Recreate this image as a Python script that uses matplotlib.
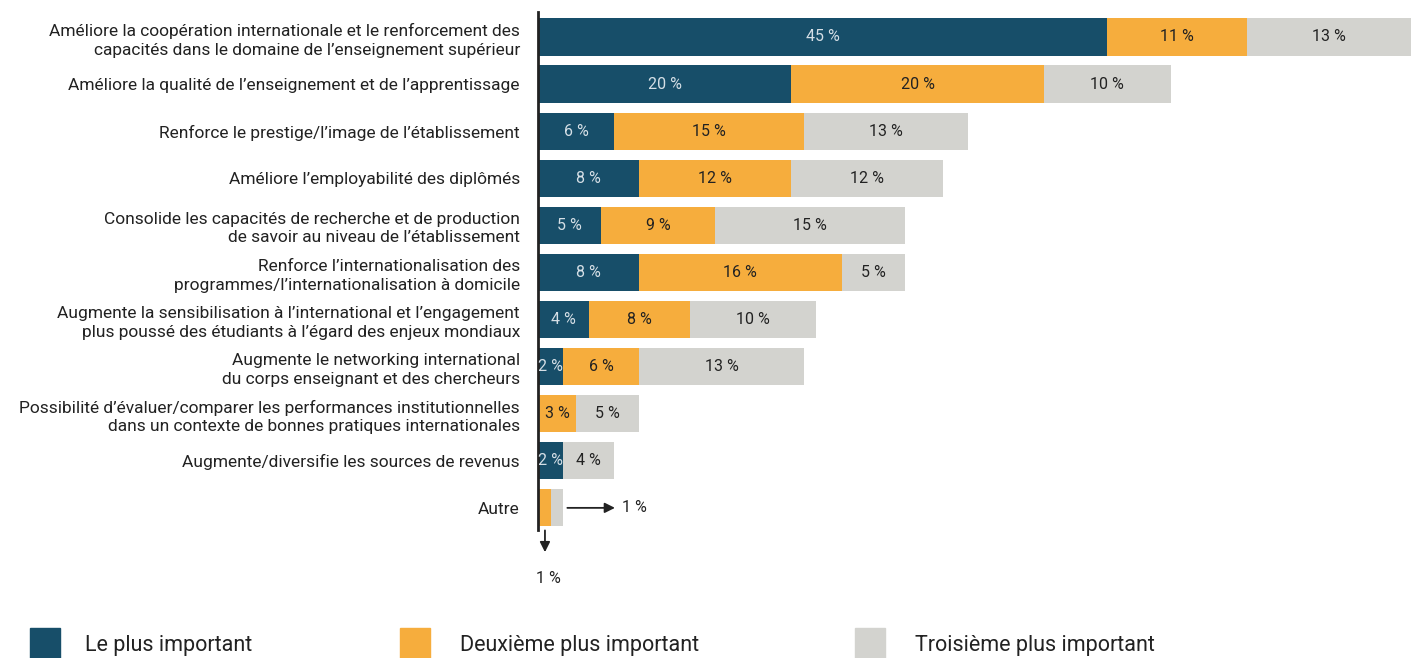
import matplotlib.pyplot as plt
from matplotlib.patches import Rectangle

plt.rcParams["font.family"] = ["Roboto", "DejaVu Sans"]

# Categories (top to bottom)
categories = [
    "Améliore la coopération internationale et le renforcement des\ncapacités dans le domaine de l\u2019enseignement supérieur",
    "Améliore la qualité de l\u2019enseignement et de l\u2019apprentissage",
    "Renforce le prestige/l\u2019image de l\u2019établissement",
    "Améliore l\u2019employabilité des diplômés",
    "Consolide les capacités de recherche et de production\nde savoir au niveau de l\u2019établissement",
    "Renforce l\u2019internationalisation des\nprogrammes/l\u2019internationalisation à domicile",
    "Augmente la sensibilisation à l\u2019international et l\u2019engagement\nplus poussé des étudiants à l\u2019égard des enjeux mondiaux",
    "Augmente le networking international\ndu corps enseignant et des chercheurs",
    "Possibilité d\u2019évaluer/comparer les performances institutionnelles\ndans un contexte de bonnes pratiques internationales",
    "Augmente/diversifie les sources de revenus",
    "Autre",
]

most = [45, 20, 6, 8, 5, 8, 4, 2, 0, 2, 0]
second = [11, 20, 15, 12, 9, 16, 8, 6, 3, 0, 1]
third = [13, 10, 13, 12, 15, 5, 10, 13, 5, 4, 1]

series_names = ["Le plus important", "Deuxième plus important", "Troisième plus important"]
colors = ["#174e69", "#f6ad3d", "#d3d3cf"]
text_colors = ["#d5dfe6", "#222222", "#222222"]

W, H = 1411, 658
fig = plt.figure(figsize=(W / 100, H / 100), dpi=100)
ax = fig.add_axes([538 / W, 1 - 530 / H, (W - 538) / W, 518 / H])

y = list(range(len(categories)))
left = [0] * len(categories)
for vals, col, tcol in zip([most, second, third], colors, text_colors):
    ax.barh(y, vals, left=left, height=0.79, color=col, edgecolor="none")
    for i, v in enumerate(vals):
        # the "Autre" row is labelled with arrows instead
        if v > 0 and i != len(categories) - 1:
            ax.text(left[i] + v / 2, i, f"{v} %", ha="center", va="center",
                    fontsize=11.5, color=tcol)
    left = [l + v for l, v in zip(left, vals)]

ax.set_xlim(0, 69)
ax.set_ylim(10.47, -0.53)
ax.set_yticks(y)
ax.set_yticklabels(categories, fontsize=12.5, color="#222222", linespacing=1.3)
ax.tick_params(axis="y", length=0, pad=13)
ax.set_xticks([])
for s in ["top", "right", "bottom"]:
    ax.spines[s].set_visible(False)
ax.spines["left"].set_linewidth(2)
ax.spines["left"].set_color("#222222")

# arrows for the "Autre" row
last = len(categories) - 1
ax.annotate("", xy=(6.3, last), xytext=(2.1, last),
            arrowprops=dict(arrowstyle="-|>", color="#222222", lw=1.3,
                            mutation_scale=15))
ax.text(6.6, last, f"{third[last]} %", ha="left", va="center", fontsize=11.5, color="#222222")
ax.annotate("", xy=(0.55, 11.0), xytext=(0.55, last + 0.42),
            arrowprops=dict(arrowstyle="-|>", color="#222222", lw=1.3,
                            mutation_scale=15), annotation_clip=False)
ax.text(0.8, 11.5, f"{second[last]} %", ha="center", va="center", fontsize=11.5,
        color="#222222", clip_on=False)

# legend squares and labels
legend_x = [30, 400, 855]
text_x = [85, 460, 915]
for lx, tx, col, name in zip(legend_x, text_x, colors, series_names):
    fig.patches.append(Rectangle((lx / W, 0), 30 / W, 30 / H, transform=fig.transFigure,
                                 color=col, figure=fig))
    fig.text(tx / W, 1 - 646 / H, name, ha="left", va="center", fontsize=15.5, color="#222222")

fig.savefig("out.png", dpi=100)
